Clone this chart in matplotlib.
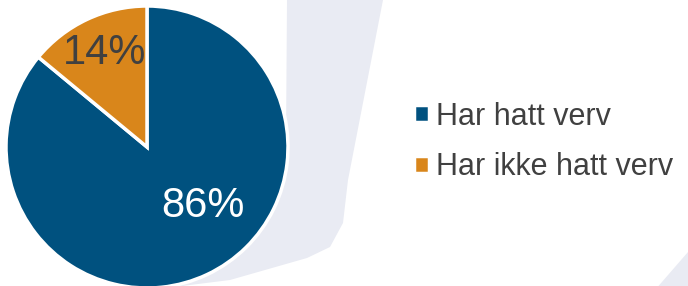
import matplotlib.pyplot as plt
from matplotlib.patches import Polygon

plt.rcParams['font.family'] = ['Liberation Sans', 'DejaVu Sans']

labels = ['Har hatt verv', 'Har ikke hatt verv']
values = [86, 14]
colors = ['#00517f', '#d9861b']

fig = plt.figure(figsize=(6.88, 2.86), dpi=100)

# decorative background shapes (pixel coordinates)
bg = fig.add_axes([0, 0, 1, 1])
bg.set_xlim(0, 688)
bg.set_ylim(286, 0)
bg.axis('off')
bg.add_patch(Polygon([(287, 0), (383, 0), (348, 180), (343, 223), (330, 247),
                      (307, 258), (230, 280), (150, 290), (150, 290), (286, 140)],
                     closed=True, color='#e9ebf3', lw=0))
bg.add_patch(Polygon([(655, 290), (688, 252), (688, 290)], closed=True, color='#e9ebf3', lw=0))

# pie
ax = fig.add_axes([6 / 688, -2 / 286, 282 / 688, 282 / 286])
wedges, _ = ax.pie(values, colors=colors, startangle=90, counterclock=False,
                   wedgeprops=dict(edgecolor='white', linewidth=2.5))
ax.set_xlim(-1, 1)
ax.set_ylim(-1, 1)
ax.set_aspect('equal')

ax.text(-0.30, 0.67, f'{values[1]}%', fontsize=30, color='#404040', ha='center', va='center')
ax.text(0.40, -0.415, f'{values[0]}%', fontsize=30, color='white', ha='center', va='center')

fig.legend(wedges, labels, loc='center left', bbox_to_anchor=(414 / 688, 1 - 142 / 286),
           frameon=False, fontsize=22, labelcolor='#404040', borderpad=0, borderaxespad=0,
           handlelength=0.48, handleheight=0.48, handletextpad=0.25, labelspacing=0.68)

fig.savefig('out.png', dpi=100, facecolor='white')
